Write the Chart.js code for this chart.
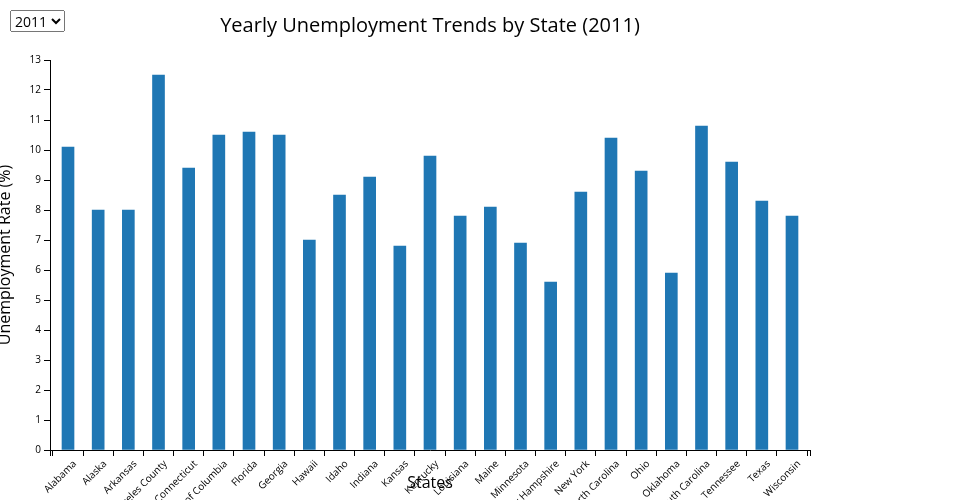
<!DOCTYPE html>
<html>
<head>
<meta charset="utf-8">
<script src="https://cdn.jsdelivr.net/npm/chart.js@4"></script>
<style>
  html, body { margin: 0; padding: 0; background: #fff; }
  #wrap { position: relative; width: 960px; height: 500px; overflow: hidden; }
  #year { position: absolute; left: 10px; top: 10px; height: 22px; font: 14px "Open Sans", sans-serif; padding: 0; }
  canvas { position: absolute; left: 0; top: 0; }
</style>
</head>
<body>
<div id="wrap">
  <canvas id="c" width="960" height="500"></canvas>
  <select id="year"><option selected>2011</option></select>
</div>
<script>
const year = '2011';
const states = ['Alabama', 'Alaska', 'Arkansas', 'Los Angeles County', 'Connecticut', 'District of Columbia', 'Florida', 'Georgia', 'Hawaii', 'Idaho', 'Indiana', 'Kansas', 'Kentucky', 'Louisiana', 'Maine', 'Minnesota', 'New Hampshire', 'New York', 'North Carolina', 'Ohio', 'Oklahoma', 'South Carolina', 'Tennessee', 'Texas', 'Wisconsin'];
const rates = [10.1, 8.0, 8.0, 12.5, 9.4, 10.5, 10.6, 10.5, 7.0, 8.5, 9.1, 6.8, 9.8, 7.8, 8.1, 6.9, 5.6, 8.6, 10.4, 9.3, 5.9, 10.8, 9.6, 8.3, 7.8];
const yTicks = [0, 1, 2, 3, 4, 5, 6, 7, 8, 9, 10, 11, 12, 13];

const FONT = '"Open Sans", sans-serif';
const pad = 0.597;

const outerTicks = {
  id: 'outerTicks',
  afterDraw(chart) {
    const x = chart.scales.x;
    const ctx = chart.ctx;
    ctx.save();
    ctx.strokeStyle = '#000';
    ctx.lineWidth = 1;
    ctx.beginPath();
    [x.left, x.right].forEach(px => {
      const p = Math.round(px) + 0.5;
      ctx.moveTo(p, x.top);
      ctx.lineTo(p, x.top + 6);
    });
    ctx.stroke();
    ctx.restore();
  }
};

new Chart(document.getElementById('c'), {
  type: 'bar',
  data: {
    datasets: [{
      data: rates.map((v, i) => ({ x: i, y: v })),
      backgroundColor: '#1f77b4',
      borderWidth: 0,
      barThickness: 12
    }]
  },
  options: {
    responsive: false,
    animation: false,
    devicePixelRatio: 1,
    layout: { padding: { left: 0, right: 150, top: 0, bottom: 0 } },
    plugins: {
      legend: { display: false },
      tooltip: { enabled: false },
      title: {
        display: true,
        fullSize: false,
        text: 'Yearly Unemployment Trends by State (' + year + ')',
        color: '#000',
        font: { family: FONT, size: 20, weight: 'normal', lineHeight: 1.2 },
        padding: { top: 14, bottom: 22 }
      }
    },
    scales: {
      x: {
        type: 'linear',
        bounds: 'data',
        min: -pad,
        max: states.length - 1 + pad,
        offset: false,
        afterFit(s) { s.height = 50; },
        afterBuildTicks(s) { s.ticks = states.map((_, i) => ({ value: i })); },
        grid: { drawOnChartArea: false, drawTicks: true, tickLength: 6, color: '#000', lineWidth: 1 },
        border: { display: true, color: '#000', width: 1 },
        ticks: {
          autoSkip: false,
          minRotation: 45,
          maxRotation: 45,
          padding: 2,
          labelOffset: 7,
          color: '#000',
          font: { family: FONT, size: 10 },
          callback: (v) => states[Math.round(v)]
        },
        title: {
          display: true,
          text: 'States',
          color: '#000',
          font: { family: FONT, size: 16, lineHeight: 1.2 },
          padding: { top: 0, bottom: 7 }
        }
      },
      y: {
        min: yTicks[0],
        max: yTicks[yTicks.length - 1],
        afterFit(s) { s.width = 50; },
        afterBuildTicks(s) { s.ticks = yTicks.map(v => ({ value: v })); },
        grid: { drawOnChartArea: false, drawTicks: true, tickLength: 6, color: '#000', lineWidth: 1 },
        border: { display: true, color: '#000', width: 1 },
        ticks: {
          padding: 3,
          color: '#000',
          font: { family: FONT, size: 10 }
        },
        title: {
          display: true,
          text: 'Unemployment Rate (%)',
          color: '#000',
          font: { family: FONT, size: 16, lineHeight: 1.2 },
          padding: { top: -4, bottom: 0 }
        }
      }
    }
  },
  plugins: [outerTicks]
});
</script>
</body>
</html>
